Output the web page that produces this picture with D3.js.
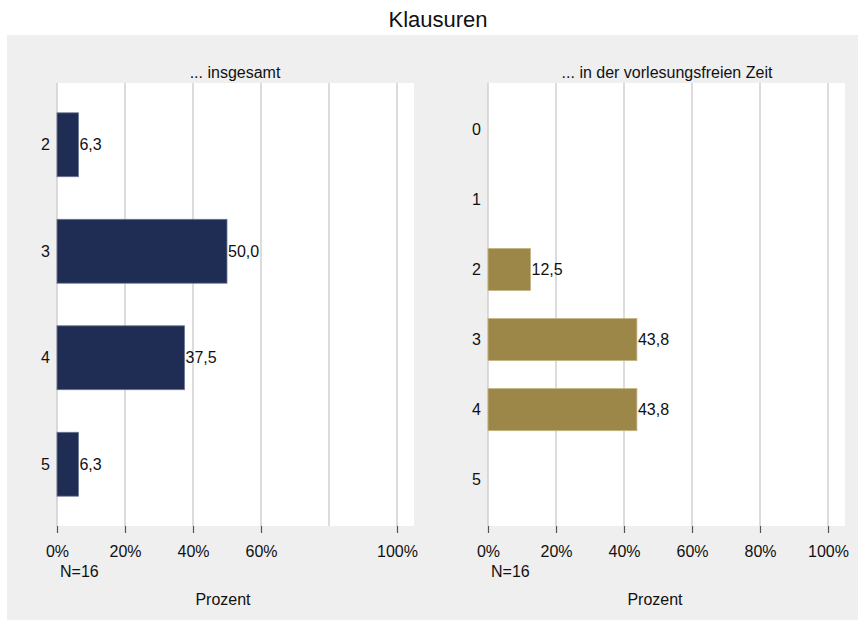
<!DOCTYPE html>
<html>
<head>
<meta charset="utf-8">
<script src="https://cdn.jsdelivr.net/npm/d3@7"></script>
<style>
	body { margin: 0; background: #fff; }
	text { font-family: 'Liberation Sans', Arial, sans-serif; fill: #111; }
</style>
</head>
<body>
<div id="chart"></div>
<script>
const title = 'Klausuren'

// left panel
const leftTitle = '... insgesamt'
const leftCats = ['2', '3', '4', '5']
const leftVals = [6.3, 50.0, 37.5, 6.3]
const leftTicks = [0, 20, 40, 60, 100]

// right panel
const rightTitle = '... in der vorlesungsfreien Zeit'
const rightCats = ['0', '1', '2', '3', '4', '5']
const rightVals = [null, null, 12.5, 43.8, 43.8, null]
const rightTicks = [0, 20, 40, 60, 80, 100]

const gridVals = [0, 20, 40, 60, 80, 100]
const nLabel = 'N=16'
const xLabel = 'Prozent'

const width = 860
const height = 621

const svg = d3
	.select('#chart')
	.append('svg')
	.attr('width', width)
	.attr('height', height)

svg.append('rect')
	.attr('x', 7)
	.attr('y', 35)
	.attr('width', 851)
	.attr('height', 585)
	.attr('fill', '#efefef')

svg.append('text')
	.attr('x', 438)
	.attr('y', 27)
	.attr('text-anchor', 'middle')
	.style('font-size', '22px')
	.text(title)

const fmt = v => d3.format('.1f')(v).replace('.', ',')

function drawPanel(opts) {
	const top = 83
	const bottom = 526
	const x = d3.scaleLinear().domain([0, 105]).range([opts.left, opts.left + 357])
	const y = d3
		.scaleBand()
		.domain(opts.cats)
		.range([top, bottom])
		.paddingInner(0.4)
		.paddingOuter(opts.outer)

	const g = svg.append('g')

	g.append('rect')
		.attr('x', x(0))
		.attr('y', top)
		.attr('width', x(105) - x(0))
		.attr('height', bottom - top)
		.attr('fill', '#fff')

	g.selectAll('.grid')
		.data(gridVals)
		.enter()
		.append('line')
		.attr('x1', d => x(d))
		.attr('x2', d => x(d))
		.attr('y1', top)
		.attr('y2', bottom)
		.attr('stroke', '#cacaca')
		.attr('stroke-width', 1.3)

	// x axis: ticks + labels
	const axis = g
		.append('g')
		.attr('transform', `translate(0,${bottom})`)
		.call(
			d3.axisBottom(x)
				.tickValues(opts.ticks)
				.tickSize(7)
				.tickPadding(13)
				.tickFormat(d => d + '%')
		)
	axis.select('.domain').remove()
	axis.selectAll('.tick line').attr('stroke', '#555').attr('stroke-width', 1.2)
	axis.selectAll('.tick text')
		.style('font-size', '16px')
		.style('font-family', "'Liberation Sans', Arial, sans-serif")
		.attr('fill', '#111')

	// category labels
	g.selectAll('.cat')
		.data(opts.cats)
		.enter()
		.append('text')
		.attr('x', x(0) - 7)
		.attr('y', d => y(d) + y.bandwidth() / 2)
		.attr('dy', '0.35em')
		.attr('text-anchor', 'end')
		.style('font-size', '16px')
		.text(d => d)

	const data = opts.cats
		.map((c, i) => ({ cat: c, val: opts.vals[i] }))
		.filter(d => d.val != null)

	g.selectAll('.bar')
		.data(data)
		.enter()
		.append('rect')
		.attr('x', x(0))
		.attr('y', d => y(d.cat))
		.attr('width', d => x(d.val) - x(0))
		.attr('height', y.bandwidth())
		.attr('fill', opts.color)
		.attr('stroke', opts.stroke)
		.attr('stroke-width', 0.8)

	g.selectAll('.val')
		.data(data)
		.enter()
		.append('text')
		.attr('x', d => x(d.val) + 1)
		.attr('y', d => y(d.cat) + y.bandwidth() / 2)
		.attr('dy', '0.35em')
		.style('font-size', '16px')
		.text(d => fmt(d.val))

	g.append('text')
		.attr('x', opts.titleX)
		.attr('y', 78)
		.attr('text-anchor', 'middle')
		.style('font-size', '16px')
		.text(opts.title)

	g.append('text')
		.attr('x', x(0) + 3)
		.attr('y', 577)
		.style('font-size', '16px')
		.text(nLabel)

	g.append('text')
		.attr('x', opts.titleX - 12)
		.attr('y', 605)
		.attr('text-anchor', 'middle')
		.style('font-size', '16px')
		.text(xLabel)
}

drawPanel({
	left: 57,
	cats: leftCats,
	vals: leftVals,
	ticks: leftTicks,
	outer: 0.28,
	color: '#1f2d54',
	stroke: '#6a7590',
	title: leftTitle,
	titleX: 235
})

drawPanel({
	left: 488,
	cats: rightCats,
	vals: rightVals,
	ticks: rightTicks,
	outer: 0.36,
	color: '#9c8748',
	stroke: '#c4b583',
	title: rightTitle,
	titleX: 667
})
</script>
</body>
</html>
